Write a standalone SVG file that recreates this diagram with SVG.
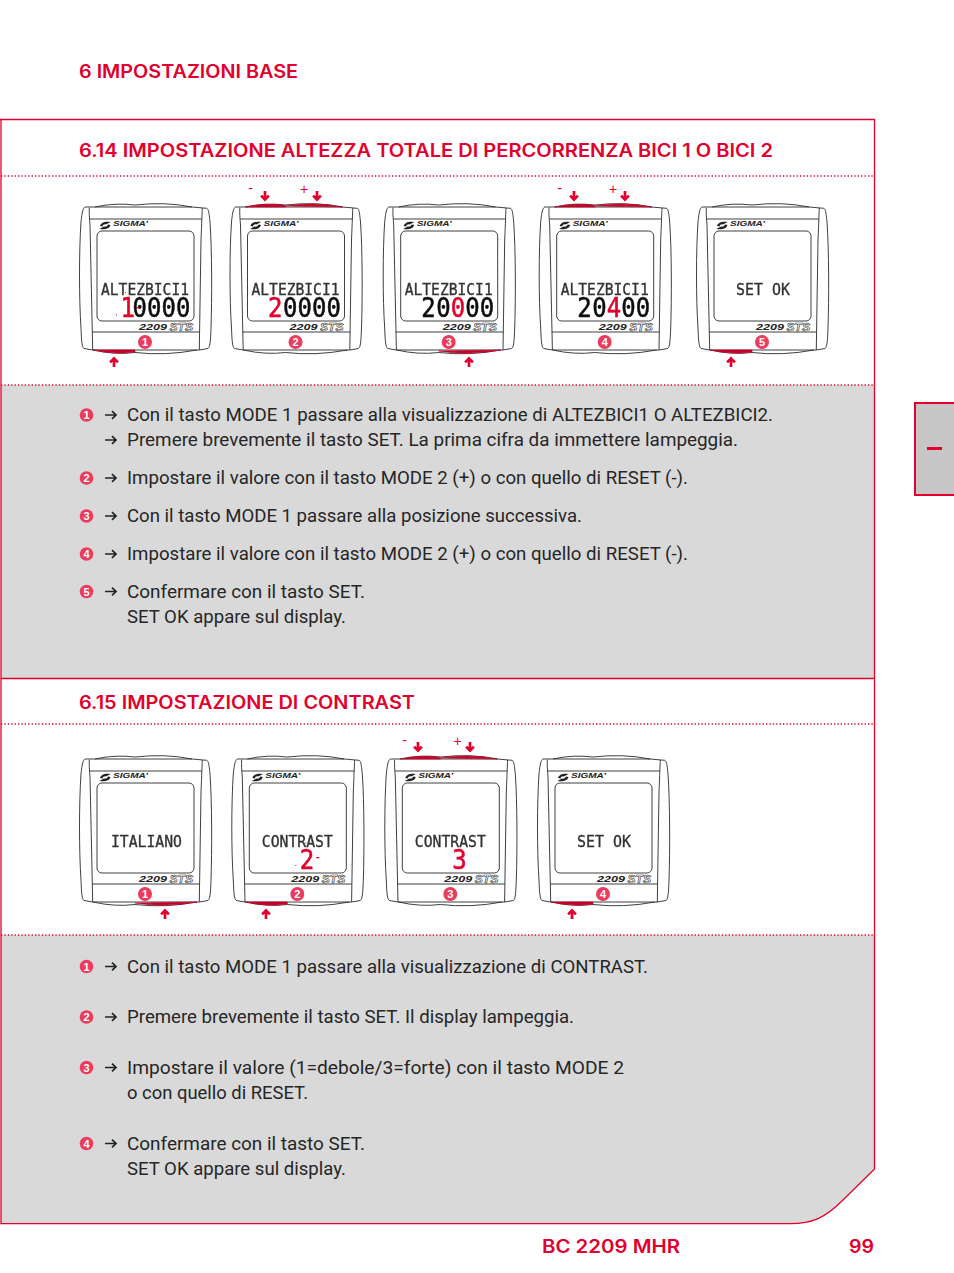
<svg xmlns="http://www.w3.org/2000/svg" width="954" height="1273" viewBox="0 0 954 1273">
<style>
.h{font-family:Inter,"Liberation Sans",sans-serif;font-weight:600;font-size:18px;fill:#e2002c}
.b{font-family:Roboto,"Liberation Sans",sans-serif;font-size:18.5px;fill:#262626}
.n{font-family:"Liberation Sans",sans-serif;font-weight:700;font-size:11px;fill:#fff;text-anchor:middle}
.bc{fill:#ec3b5c}
.dot{stroke:#e2002c;stroke-width:1.3;stroke-dasharray:1.3 2.1;fill:none}
.s{fill:none;stroke:#2a2a2a;stroke-width:.9}
.rb{fill:#c8002a;stroke:#c8002a;stroke-width:.6}
.lcd{font-family:"DejaVu Sans Mono","Liberation Mono",monospace;font-size:16.5px;fill:#333;stroke:#333;stroke-width:.35;filter:url(#soft)}
.big{font-family:"DejaVu Sans Mono","Liberation Mono",monospace;font-size:24px;fill:#111;stroke:#111;stroke-width:.5;filter:url(#soft)}
.big .red,.big.red{fill:#e2002c;stroke:#e2002c}
.sig{font-family:"Liberation Sans",sans-serif;font-weight:700;font-style:italic;font-size:7px;fill:#222}
.m{font-family:"Liberation Sans",sans-serif;font-weight:700;font-style:italic;font-size:8.5px;fill:#222}
.sts{font-family:"Liberation Sans",sans-serif;font-weight:700;font-style:italic;font-size:11px;fill:#fff;stroke:#333;stroke-width:.6}
.pm{font-family:"Liberation Sans",sans-serif;font-size:14px;fill:#e2002c;text-anchor:middle}
.ra{fill:none;stroke:#e2002c;stroke-width:2.7}
.la{fill:none;stroke:#222;stroke-width:1.7}
</style>
<defs>
<filter id="soft" x="-5%" y="-5%" width="110%" height="110%"><feGaussianBlur stdDeviation="0.35"/></filter>
<g id="dev">
<path class="s" d="M85,207C83,208 82,212 81,222C79,250 79,300 81,328C81.500,342 82,347 84,348.500L92.700,350H199.300L208,348.500C210,347 210.500,342 211,328C212,300 212,250 210,222C209,212 208.500,209 206.700,208.300L192,207H95Z"/>
<path class="s" d="M89.300,207.700C89,212 89.500,219 90,225L92.700,350M202.300,208C202,214 201.800,222 201,240L199.300,350M89.700,219H202M92,332H199.500"/>
<path class="s" d="M95,207Q115,202.500 135,205Q165,201.500 192,207M93,350Q115,355 135,352.500Q165,356 197,350" stroke-width=".8"/>
<rect class="s" x="97" y="231" width="97" height="90" rx="5"/>
<path d="M100,226C101,222 106,221 110.500,222L106,224.500C104,224 103,225 102.500,226.500ZM110.500,225C109.500,229 104,230 99.500,229L104,226.500C106,227 107.500,226 108,224.500Z" fill="#222"/>
<text class="sig" x="113" y="226" textLength="35" lengthAdjust="spacingAndGlyphs">SIGMA’</text>
<text class="m" x="139" y="330" textLength="28" lengthAdjust="spacingAndGlyphs">2209</text>
<text class="sts" x="169.500" y="331" textLength="23.500" lengthAdjust="spacingAndGlyphs">STS</text>
<circle class="bc" cx="145" cy="342" r="7"/>
</g>
<path id="btl" class="rb" d="M95,207Q115,202.500 135,205.500V207Z"/>
<path id="btr" class="rb" d="M135,206Q165,201.500 192,207Z"/>
<path id="bbl" class="rb" d="M93,350Q115,355 135,352V350Z"/>
<path id="bbr" class="rb" d="M135,351Q165,356 197,350Z"/>
<path id="au" class="ra" d="M0,10V1.500M-3.900,5.400L0,1.500L3.900,5.400"/>
<path id="ad" class="ra" d="M0,0V8.500M-3.900,4.600L0,8.500L3.900,4.600"/>
<path id="ar" class="la" d="M0,0H11M7,-3.800L11,0L7,3.800"/>
</defs>

<rect width="954" height="1273" fill="#fff"/>

<g id="panel">
<path d="M1,385H874.500V678H1Z" fill="#d9d9d9"/>
<path d="M1,935H874.500V1169L843,1200C825,1218 812,1223.700 790,1223.700H1Z" fill="#d9d9d9"/>
<path d="M0,119.500H874.500V1169L843,1200C825,1218 812,1223.700 790,1223.700H1V119.500" fill="none" stroke="#e2002c" stroke-width="1.300"/>
<path d="M1,678.500H874.500" fill="none" stroke="#e2002c" stroke-width="1.300"/>
<path class="dot" d="M1,176H873M1,385H873M1,724H873M1,935H873"/>
</g>

<g id="tab">
<rect x="915" y="403" width="41" height="92" fill="#c6c6c6" stroke="#e2002c" stroke-width="2"/>
<rect x="927" y="447" width="15" height="3" fill="#e2002c"/>
</g>

<g id="headings">
<text class="h" x="79" y="78" textLength="219" lengthAdjust="spacingAndGlyphs">6 IMPOSTAZIONI BASE</text>
<text class="h" x="79" y="157" textLength="694" lengthAdjust="spacingAndGlyphs">6.14 IMPOSTAZIONE ALTEZZA TOTALE DI PERCORRENZA BICI 1 O BICI 2</text>
<text class="h" x="79" y="709" textLength="336" lengthAdjust="spacingAndGlyphs">6.15 IMPOSTAZIONE DI CONTRAST</text>
<text class="h" x="542" y="1253" textLength="138" lengthAdjust="spacingAndGlyphs">BC 2209 MHR</text>
<text class="h" x="849" y="1253" textLength="25" lengthAdjust="spacingAndGlyphs">99</text>
</g>

<g id="device-1-1">
<use href="#dev"/><use href="#bbl"/>
<text class="lcd" x="101" y="295" textLength="88" lengthAdjust="spacingAndGlyphs">ALTEZBICI1</text>
<g transform="translate(0,317) scale(1,1.140)"><text class="big" y="0"><tspan class="red" x="120.500">1</tspan><tspan x="132.500 147 161.500 176">0000</tspan></text></g>
<rect x="136.500" y="307" width="3" height="1.300" fill="#e2002c"/><rect x="116" y="314.500" width="1" height="1" fill="#e2002c"/><rect x="125" y="292" width="1" height="1" fill="#e2002c"/>
<text class="n" x="145" y="346">1</text>
</g>
<g id="device-1-2" transform="translate(150.500,0)">
<use href="#dev"/><use href="#btl"/><use href="#btr"/>
<text class="lcd" x="101" y="295" textLength="88" lengthAdjust="spacingAndGlyphs">ALTEZBICI1</text>
<g transform="translate(0,317) scale(1,1.140)"><text class="big" y="0"><tspan class="red" x="117.500">2</tspan><tspan x="132.500 147 161.500 176">0000</tspan></text></g>
<text class="n" x="145" y="346">2</text>
</g>
<g id="device-1-3" transform="translate(303.700,0)">
<use href="#dev"/><use href="#bbr"/>
<text class="lcd" x="101" y="295" textLength="88" lengthAdjust="spacingAndGlyphs">ALTEZBICI1</text>
<g transform="translate(0,317) scale(1,1.140)"><text class="big" y="0"><tspan x="117.500 132.500">20</tspan><tspan class="red" x="147">0</tspan><tspan x="161.500 176">00</tspan></text></g>
<text class="n" x="145" y="346">3</text>
</g>
<g id="device-1-4" transform="translate(459.700,0)">
<use href="#dev"/><use href="#btl"/><use href="#btr"/>
<text class="lcd" x="101" y="295" textLength="88" lengthAdjust="spacingAndGlyphs">ALTEZBICI1</text>
<g transform="translate(0,317) scale(1,1.140)"><text class="big" y="0"><tspan x="117.500 132.500">20</tspan><tspan class="red" x="147">4</tspan><tspan x="161.500 176">00</tspan></text></g>
<text class="n" x="145" y="346">4</text>
</g>
<g id="device-1-5" transform="translate(617,0)">
<use href="#dev"/><use href="#bbl"/>
<text class="lcd" x="119" y="295" textLength="54" lengthAdjust="spacingAndGlyphs">SET OK</text>
<text class="n" x="145" y="346">5</text>
</g>

<g id="device-2-1" transform="translate(0,552)">
<use href="#dev"/><use href="#bbr"/>
<text class="lcd" x="111" y="295" textLength="71" lengthAdjust="spacingAndGlyphs">ITALIANO</text>
<text class="n" x="145" y="346">1</text>
</g>
<g id="device-2-2" transform="translate(152.300,552)">
<use href="#dev"/><use href="#bbl"/>
<text class="lcd" x="109.500" y="295" textLength="71" lengthAdjust="spacingAndGlyphs">CONTRAST</text>
<g transform="translate(0,316.500) scale(1,1.140)"><text class="big red" x="147.500">2</text></g>
<rect x="164" y="305" width="3" height="1.300" fill="#e2002c"/><rect x="143" y="313" width="1" height="1" fill="#e2002c"/><rect x="153" y="290.500" width="1" height="1" fill="#e2002c"/>
<text class="n" x="145" y="346">2</text>
</g>
<g id="device-2-3" transform="translate(305.300,552)">
<use href="#dev"/><use href="#btl"/><use href="#btr"/>
<text class="lcd" x="109.500" y="295" textLength="71" lengthAdjust="spacingAndGlyphs">CONTRAST</text>
<g transform="translate(0,316.500) scale(1,1.140)"><text class="big red" x="147">3</text></g>
<text class="n" x="145" y="346">3</text>
</g>
<g id="device-2-4" transform="translate(458,552)">
<use href="#dev"/><use href="#bbl"/>
<text class="lcd" x="119" y="295" textLength="54" lengthAdjust="spacingAndGlyphs">SET OK</text>
<text class="n" x="145" y="346">4</text>
</g>

<g id="connectors">
<use href="#au" x="114" y="357"/><use href="#au" x="469" y="357"/><use href="#au" x="731" y="357"/>
<use href="#au" x="165" y="909"/><use href="#au" x="266" y="909"/><use href="#au" x="572" y="909"/>
<use href="#ad" x="265" y="191"/><use href="#ad" x="317" y="191"/>
<use href="#ad" x="574" y="191"/><use href="#ad" x="625" y="191"/>
<use href="#ad" x="418" y="742"/><use href="#ad" x="470" y="742"/>
</g>
<g id="keys">
<text class="pm" x="250.500" y="193">-</text><text class="pm" x="304" y="193.500">+</text>
<text class="pm" x="559.500" y="193">-</text><text class="pm" x="613" y="193.500">+</text>
<text class="pm" x="404.500" y="745">-</text><text class="pm" x="457.500" y="745.500">+</text>
</g>

<g id="list-arrows">
<use href="#ar" x="105" y="415"/><use href="#ar" x="105" y="440"/><use href="#ar" x="105" y="478"/><use href="#ar" x="105" y="516"/><use href="#ar" x="105" y="554"/><use href="#ar" x="105" y="591.500"/>
<use href="#ar" x="105" y="966.500"/><use href="#ar" x="105" y="1017"/><use href="#ar" x="105" y="1067.500"/><use href="#ar" x="105" y="1143.500"/>
</g>

<g id="steps-614">
<circle class="bc" cx="86.500" cy="415" r="6.800"/><text class="n" x="86.500" y="419">1</text>
<circle class="bc" cx="86.500" cy="478" r="6.800"/><text class="n" x="86.500" y="482">2</text>
<circle class="bc" cx="86.500" cy="516" r="6.800"/><text class="n" x="86.500" y="520">3</text>
<circle class="bc" cx="86.500" cy="554" r="6.800"/><text class="n" x="86.500" y="558">4</text>
<circle class="bc" cx="86.500" cy="591.500" r="6.800"/><text class="n" x="86.500" y="595.500">5</text>
<text class="b" x="127" y="421" textLength="646" lengthAdjust="spacingAndGlyphs">Con il tasto MODE 1 passare alla visualizzazione di ALTEZBICI1 O ALTEZBICI2.</text>
<text class="b" x="127" y="446" textLength="611" lengthAdjust="spacingAndGlyphs">Premere brevemente il tasto SET. La prima cifra da immettere lampeggia.</text>
<text class="b" x="127" y="484" textLength="561" lengthAdjust="spacingAndGlyphs">Impostare il valore con il tasto MODE 2 (+) o con quello di RESET (-).</text>
<text class="b" x="127" y="522" textLength="455" lengthAdjust="spacingAndGlyphs">Con il tasto MODE 1 passare alla posizione successiva.</text>
<text class="b" x="127" y="560" textLength="561" lengthAdjust="spacingAndGlyphs">Impostare il valore con il tasto MODE 2 (+) o con quello di RESET (-).</text>
<text class="b" x="127" y="598" textLength="238" lengthAdjust="spacingAndGlyphs">Confermare con il tasto SET.</text>
<text class="b" x="127" y="623" textLength="219" lengthAdjust="spacingAndGlyphs">SET OK appare sul display.</text>
</g>
<g id="steps-615">
<circle class="bc" cx="86.500" cy="966.500" r="6.800"/><text class="n" x="86.500" y="970.500">1</text>
<circle class="bc" cx="86.500" cy="1017" r="6.800"/><text class="n" x="86.500" y="1021">2</text>
<circle class="bc" cx="86.500" cy="1067.500" r="6.800"/><text class="n" x="86.500" y="1071.500">3</text>
<circle class="bc" cx="86.500" cy="1143.500" r="6.800"/><text class="n" x="86.500" y="1147.500">4</text>
<text class="b" x="127" y="973" textLength="521" lengthAdjust="spacingAndGlyphs">Con il tasto MODE 1 passare alla visualizzazione di CONTRAST.</text>
<text class="b" x="127" y="1023" textLength="447" lengthAdjust="spacingAndGlyphs">Premere brevemente il tasto SET. Il display lampeggia.</text>
<text class="b" x="127" y="1074" textLength="497" lengthAdjust="spacingAndGlyphs">Impostare il valore (1=debole/3=forte) con il tasto MODE 2</text>
<text class="b" x="127" y="1099" textLength="181" lengthAdjust="spacingAndGlyphs">o con quello di RESET.</text>
<text class="b" x="127" y="1150" textLength="238" lengthAdjust="spacingAndGlyphs">Confermare con il tasto SET.</text>
<text class="b" x="127" y="1175" textLength="219" lengthAdjust="spacingAndGlyphs">SET OK appare sul display.</text>
</g>
</svg>
